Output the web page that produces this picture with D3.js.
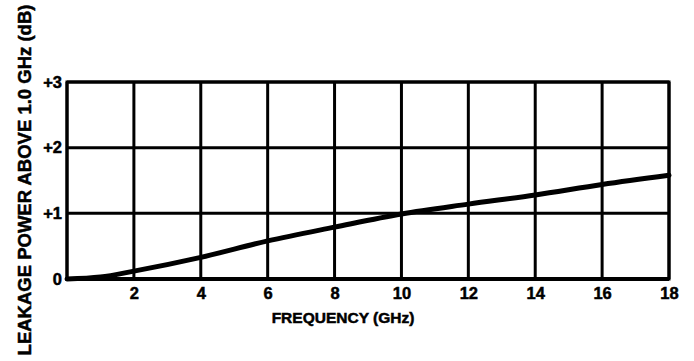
<!DOCTYPE html>
<html>
<head>
<meta charset="utf-8">
<script src="https://cdn.jsdelivr.net/npm/d3@7"></script>
<style>
  body { margin: 0; background: #fff; }
  text { font-family: "Liberation Sans", Arial, sans-serif; font-weight: bold; fill: #000; stroke: #000; stroke-width: 0.5px; }
</style>
</head>
<body>
<figure id="chart" style="margin:0"></figure>
<script>
// data
const freqGHz = [0, 1, 2, 4, 6, 8, 10, 12, 14, 16, 18];
const leakageDb = [0, 0.03, 0.12, 0.33, 0.58, 0.79, 0.99, 1.14, 1.28, 1.44, 1.58];
const xTicks = [2, 4, 6, 8, 10, 12, 14, 16, 18];
const xGrid = [0, 2, 4, 6, 8, 10, 12, 14, 16, 18];
const yTicks = [0, 1, 2, 3];
const yTickLabels = ["0", "+1", "+2", "+3"];

const width = 694, height = 361;
const plotLeft = 67, plotRight = 669, plotTop = 82, plotBottom = 279;

const svg = d3.select("#chart")
  .append("svg")
  .attr("width", width)
  .attr("height", height);

const x = d3.scaleLinear().domain([0, 18]).range([plotLeft, plotRight]);
const y = d3.scaleLinear().domain([0, 3]).range([plotBottom, plotTop]);

// grid
svg.append("g")
  .selectAll("line.v")
  .data(xGrid)
  .enter()
  .append("line")
  .attr("x1", d => x(d)).attr("x2", d => x(d))
  .attr("y1", plotTop).attr("y2", plotBottom)
  .attr("stroke", "#000")
  .attr("stroke-width", 3);

svg.append("g")
  .selectAll("line.h")
  .data(yTicks)
  .enter()
  .append("line")
  .attr("x1", plotLeft).attr("x2", plotRight)
  .attr("y1", d => y(d)).attr("y2", d => y(d))
  .attr("stroke", "#000")
  .attr("stroke-width", d => d === 0 ? 4 : 3);

svg.append("rect")
  .attr("x", plotLeft).attr("y", plotTop)
  .attr("width", plotRight - plotLeft).attr("height", plotBottom - plotTop)
  .attr("fill", "none")
  .attr("stroke", "#000")
  .attr("stroke-width", 3);

// x tick labels
svg.append("g")
  .attr("transform", `translate(0, ${plotBottom})`)
  .call(d3.axisBottom(x).tickValues(xTicks).tickSize(0).tickPadding(8).tickFormat(d3.format("d")))
  .call(g => g.select(".domain").remove())
  .selectAll("text")
  .style("font-size", "16.5px")
  .style("font-family", "Liberation Sans, Arial, sans-serif")
  .style("font-weight", "bold")
  .style("fill", "#000");

// y tick labels
svg.append("g")
  .attr("transform", `translate(${plotLeft}, 0)`)
  .call(d3.axisLeft(y).tickValues(yTicks).tickSize(0).tickPadding(5)
    .tickFormat((d, i) => yTickLabels[i]))
  .call(g => g.select(".domain").remove())
  .selectAll("text")
  .style("font-size", "16.5px")
  .style("font-family", "Liberation Sans, Arial, sans-serif")
  .style("font-weight", "bold")
  .style("fill", "#000");

// curve
const line = d3.line()
  .x((d, i) => x(freqGHz[i]))
  .y(d => y(d))
  .curve(d3.curveMonotoneX);

svg.append("path")
  .datum(leakageDb)
  .attr("d", line)
  .attr("fill", "none")
  .attr("stroke", "#000")
  .attr("stroke-width", 5)
  .attr("stroke-linecap", "round");

// titles
svg.append("text")
  .attr("x", 343)
  .attr("y", 323)
  .attr("text-anchor", "middle")
  .style("font-size", "15.5px")
  .text("FREQUENCY (GHz)");

svg.append("text")
  .attr("transform", "translate(31, 180) rotate(-90)")
  .attr("text-anchor", "middle")
  .style("font-size", "18.5px")
  .text("LEAKAGE POWER ABOVE 1.0 GHz (dB)");
</script>
</body>
</html>
